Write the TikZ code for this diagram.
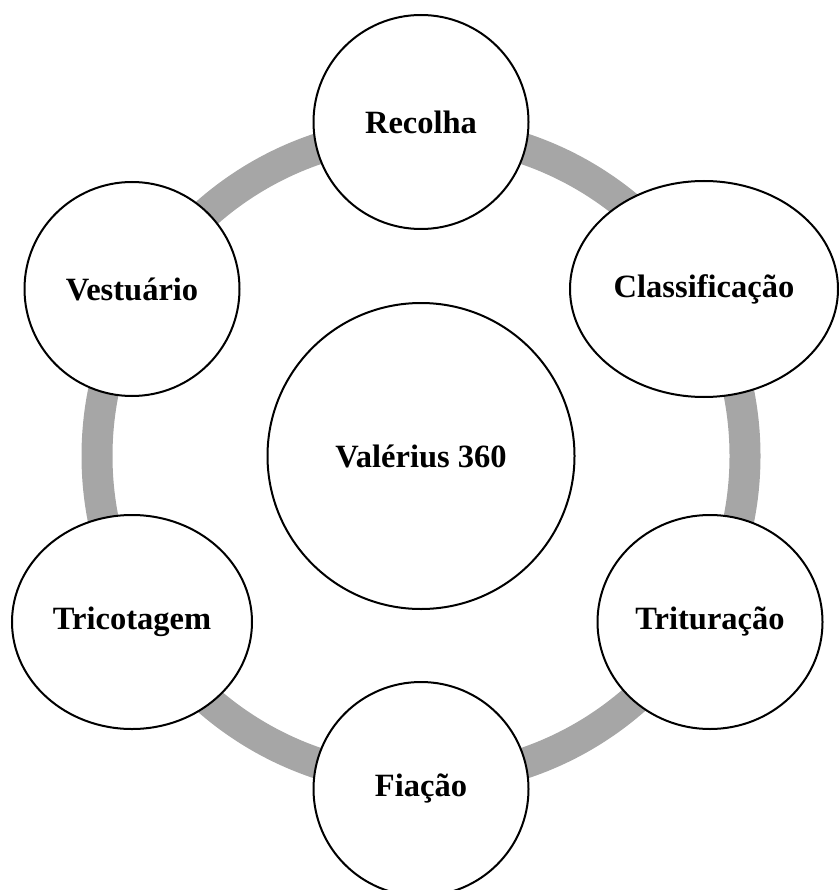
\documentclass[tikz,border=0pt]{standalone}
\usepackage{fontspec}
\setmainfont{Liberation Serif}
\usetikzlibrary{shapes.geometric}
\begin{document}
\begin{tikzpicture}[x=1pt,y=-1pt,
  stage/.style={ellipse,draw=black,line width=2pt,fill=white,inner sep=0pt,
    font=\fontsize{32.5}{38}\selectfont\bfseries},
  ringline/.style={draw={rgb,255:red,166;green,166;blue,166},line width=31pt}]
\useasboundingbox (0,0) rectangle (838,890);
\coordinate (c) at (421,456);
\draw[ringline] (c) circle[radius=324];
\node[stage,minimum width=307,minimum height=306] (core) at (421,456) {Valérius 360};
\node[stage,minimum width=215,minimum height=214] (recolha) at (421,122) {Recolha};
\node[stage,minimum width=268,minimum height=216] (classif) at (704,289) {Classificação};
\node[stage,minimum width=225,minimum height=214] (tritur) at (710,622) {Trituração};
\node[stage,minimum width=215,minimum height=214] (fiacao) at (421,789) {Fiação};
\node[stage,minimum width=240,minimum height=214] (tricot) at (132,622) {Tricotagem};
\node[stage,minimum width=215,minimum height=214] (vest) at (132,289) {Vestuário};
\end{tikzpicture}
\end{document}
